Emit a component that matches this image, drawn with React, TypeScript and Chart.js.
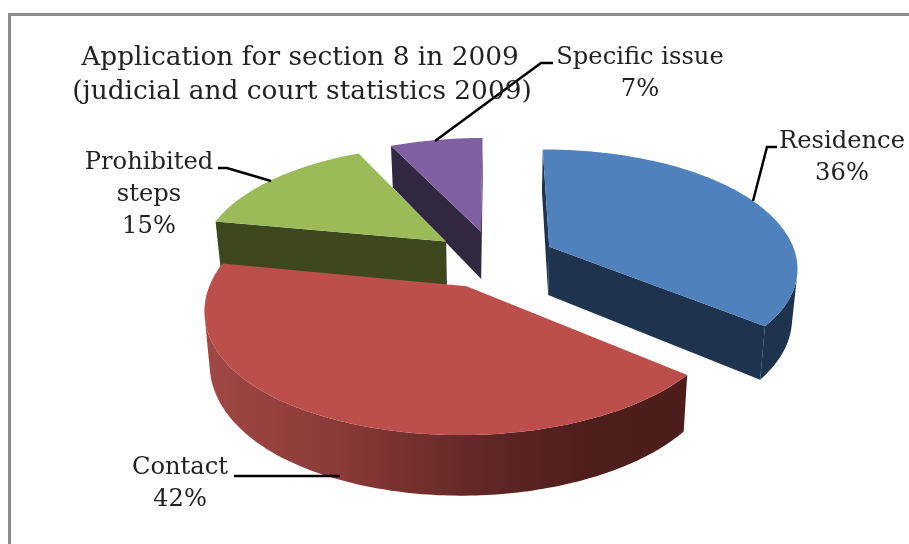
import React, { useEffect, useRef } from "react";
import { Chart, registerables } from "chart.js";

Chart.register(...registerables);

const categories = ["Residence", "Contact", "Prohibited steps", "Specific issue"];
const values = [36, 42, 15, 7];
const topColors = ["#4F81BD", "#BC4F4B", "#9BBB59", "#7F60A0"];
const sideColors = ["#1E334D", "", "#3E481F", "#322740"];
const redWallStops: [number, string][] = [
  [205, "#A04845"],
  [340, "#8A3A37"],
  [490, "#5F2625"],
  [590, "#4E1E1C"],
  [690, "#4C1D1B"],
];
const titleLines = ["Application for section 8 in 2009", "(judicial and court statistics 2009)"];
const labelTexts = [
  { lines: ["Residence", "36%"], x: 842, y: 148, dy: 32 },
  { lines: ["Contact", "42%"], x: 180, y: 474, dy: 32 },
  { lines: ["Prohibited", "steps", "15%"], x: 149, y: 169, dy: 32 },
  { lines: ["Specific issue", "7%"], x: 640, y: 64, dy: 32 },
];
const leaders = [
  [[777, 147], [767, 147], [753, 201]],
  [[234, 476], [340, 476]],
  [[218, 168], [227, 168], [271, 181]],
  [[553, 63], [541, 63], [435, 141]],
];

// view model of the tilted pie
const BX = 494, BY = 259, R = 253, TILT = 0.459, K = 0.156, DEPTH = 49, EXPLODE = 0.25, BOTTOM = 0.982, PINCH = 0.02;

type Pt = [number, number];
function project(U: number, V: number, h: number): Pt {
  const w = 1 - K * V;
  const s = h ? BOTTOM : 1;
  const near = Math.min(1, Math.abs(V));
  const p = 1 - PINCH * (1 - near * near);
  return [BX + (s * p * R * U) / w, BY + (R * TILT * V + h * DEPTH) / w];
}
function area(p: Pt[]) {
  let a = 0;
  p.forEach((q, i) => {
    const n = p[(i + 1) % p.length];
    a += q[0] * n[1] - n[0] * q[1];
  });
  return a;
}
function poly(ctx: CanvasRenderingContext2D, p: Pt[], fill: any) {
  ctx.beginPath();
  p.forEach((q, i) => (i ? ctx.lineTo(q[0], q[1]) : ctx.moveTo(q[0], q[1])));
  ctx.closePath();
  ctx.fillStyle = fill;
  ctx.fill();
}

const pie3d = {
  id: "pie3d",
  beforeDatasetsDraw(chart: any) {
    const ctx: CanvasRenderingContext2D = chart.ctx;
    const arcs = chart.getDatasetMeta(0).data;
    const grad = ctx.createLinearGradient(205, 0, 690, 0);
    redWallStops.forEach(([x, c]) => grad.addColorStop((x - 205) / 485, c));
    [0, 3, 2, 1].forEach((i) => {
      const el = arcs[i];
      const a0 = el.startAngle + Math.PI / 2;
      const a1 = el.endAngle + Math.PI / 2;
      const m = (a0 + a1) / 2;
      const cu = EXPLODE * Math.sin(m);
      const cv = -EXPLODE * Math.cos(m);
      const edge = (a: number, h: number) => project(cu + Math.sin(a), cv - Math.cos(a), h);
      const c0 = project(cu, cv, 0);
      const c1 = project(cu, cv, 1);
      const wall = sideColors[i] || grad;
      const n = Math.ceil(((a1 - a0) * 180) / Math.PI);
      const cuts: Pt[][] = [
        [c0, edge(a0, 0), edge(a0, 1), c1],
        [edge(a1, 0), c0, c1, edge(a1, 1)],
      ];
      const rim: Pt[] = [c0];
      const bandTop: Pt[] = [];
      const bandBottom: Pt[] = [];
      for (let k = 0; k <= n; k++) {
        const a = a0 + ((a1 - a0) * k) / n;
        rim.push(edge(a, 0));
        if (k < n) {
          const b = a0 + ((a1 - a0) * (k + 1)) / n;
          if (area([edge(a, 0), edge(b, 0), edge(b, 1), edge(a, 1)]) < 0) {
            if (!bandTop.length) {
              bandTop.push(edge(a, 0));
              bandBottom.push(edge(a, 1));
            }
            bandTop.push(edge(b, 0));
            bandBottom.push(edge(b, 1));
          }
        }
      }
      cuts.filter((f) => area(f) < 0).forEach((f) => poly(ctx, f, wall));
      if (bandTop.length) poly(ctx, [...bandTop, ...bandBottom.reverse()], wall);
      poly(ctx, rim, el.options.backgroundColor);
    });
    return false;
  },
  afterDraw(chart: any) {
    const ctx: CanvasRenderingContext2D = chart.ctx;
    ctx.save();
    // frame of the picture
    ctx.strokeStyle = "#8C8C8C";
    ctx.lineWidth = 3;
    ctx.beginPath();
    ctx.moveTo(9.5, 544);
    ctx.lineTo(9.5, 14.5);
    ctx.lineTo(909, 14.5);
    ctx.stroke();
    // leader lines
    ctx.strokeStyle = "#000";
    ctx.lineWidth = 2.5;
    leaders.forEach((l) => {
      ctx.beginPath();
      l.forEach(([x, y], i) => (i ? ctx.lineTo(x, y) : ctx.moveTo(x, y)));
      ctx.stroke();
    });
    // text
    ctx.fillStyle = "#222";
    ctx.textAlign = "center";
    ctx.textBaseline = "alphabetic";
    ctx.font = '26.4px "DejaVu Serif"';
    ctx.fillText(titleLines[0], 300, 65);
    ctx.fillText(titleLines[1], 302, 99);
    ctx.font = '24.2px "DejaVu Serif"';
    labelTexts.forEach((t) =>
      t.lines.forEach((s, i) => ctx.fillText(s, t.x, t.y + i * t.dy))
    );
    ctx.restore();
  },
};

export default function App() {
  const ref = useRef<HTMLCanvasElement>(null);
  useEffect(() => {
    const chart = new Chart(ref.current!, {
      type: "pie",
      data: {
        labels: categories,
        datasets: [{ data: values, backgroundColor: topColors, borderWidth: 0 }],
      },
      options: {
        responsive: false,
        animation: false,
        plugins: { legend: { display: false }, tooltip: { enabled: false } },
      },
      plugins: [pie3d],
    });
    return () => chart.destroy();
  }, []);
  return (
    <canvas
      ref={ref}
      width={909}
      height={544}
      style={{ position: "absolute", left: 0, top: 0, display: "block", background: "#fff" }}
    />
  );
}
